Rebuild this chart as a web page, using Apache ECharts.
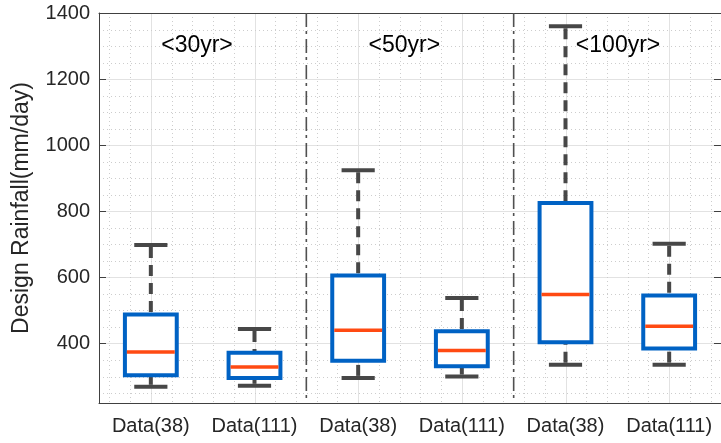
<!DOCTYPE html>
<html>
<head>
<meta charset="utf-8">
<script src="https://cdn.jsdelivr.net/npm/echarts@6/dist/echarts.min.js"></script>
<style>
  html, body { margin: 0; padding: 0; background: #fff; }
  #chart { width: 721px; height: 443px; }
</style>
</head>
<body>
<div id="chart"></div>
<script>
  // boxplot statistics
  var categories = ['Data(38)', 'Data(111)', 'Data(38)', 'Data(111)', 'Data(38)', 'Data(111)']
  var lowerWhisker = [269, 272, 296, 300, 336, 336]
  var q1 = [304, 296, 348, 331, 404, 385]
  var median = [374, 329, 440, 379, 548, 452]
  var q3 = [488, 372, 606, 437, 825, 545]
  var upperWhisker = [698, 444, 924, 538, 1360, 702]

  // period groups: label, first category index
  var groupLabels = ['<30yr>', '<50yr>', '<100yr>']
  var groupStart = [0, 2, 4]
  var groupLabelValue = [1300, 1300, 1300]
  // separators sit after these category indexes
  var groupEnds = [1, 3]

  var yMin = 220
  var yMax = 1400

  var boxData = categories.map(function (c, i) {
    return [i, lowerWhisker[i], q1[i], median[i], q3[i], upperWhisker[i]]
  })
  var labelData = groupLabels.map(function (t, i) {
    return [groupStart[i], groupLabelValue[i], t]
  })
  var sepData = groupEnds.map(function (i) { return [i, yMin] })

  var font = '"Liberation Sans", Arial, Helvetica, sans-serif'
  var axisColor = '#404040'

  function px (v) { return Math.round(v) + 0.5 }

  function renderGrid (params, api) {
    var cs = params.coordSys
    var band = api.size([1, 0])[0]
    var children = []
    var minor = { stroke: '#cdcdcd', lineWidth: 1, lineDash: [1, 3] }
    var major = { stroke: '#e2e2e2', lineWidth: 1 }
    for (var i = 0; i < categories.length; i++) {
      var cx = api.coord([i, 400])[0]
      for (var k = -2; k <= 2; k++) {
        var x = px(cx + k * band / 5)
        children.push({
          type: 'line',
          shape: { x1: x, y1: cs.y, x2: x, y2: cs.y + cs.height },
          style: k === 0 ? major : minor
        })
      }
    }
    for (var v = 250; v < yMax; v += 50) {
      if (v % 200 === 0) continue
      var y = px(api.coord([0, v])[1])
      children.push({
        type: 'line',
        shape: { x1: cs.x, y1: y, x2: cs.x + cs.width, y2: y },
        style: minor
      })
    }
    return { type: 'group', children: children }
  }

  function renderSep (params, api) {
    var cs = params.coordSys
    var band = api.size([1, 0])[0]
    var x = api.coord([api.value(0), yMin])[0] + band / 2
    return {
      type: 'line',
      shape: { x1: x, y1: cs.y, x2: x, y2: cs.y + cs.height },
      style: { stroke: '#505050', lineWidth: 1.6, lineDash: [14, 4, 3, 5] }
    }
  }

  function renderBox (params, api) {
    var i = api.value(0)
    var band = api.size([1, 0])[0]
    var cx = api.coord([i, yMin])[0]
    var yLow = api.coord([i, api.value(1)])[1]
    var yQ1 = api.coord([i, api.value(2)])[1]
    var yMed = api.coord([i, api.value(3)])[1]
    var yQ3 = api.coord([i, api.value(4)])[1]
    var yHigh = api.coord([i, api.value(5)])[1]
    var bw = band * 0.5
    var cw = band * 0.32
    var whisker = { stroke: '#474747', lineWidth: 4, lineDash: [11, 7] }
    var cap = { stroke: '#474747', lineWidth: 4 }
    return {
      type: 'group',
      children: [
        { type: 'line', shape: { x1: cx, y1: yHigh + 2, x2: cx, y2: yQ3 }, style: whisker },
        { type: 'line', shape: { x1: cx, y1: yLow - 2, x2: cx, y2: yQ1 }, style: whisker },
        { type: 'line', shape: { x1: cx - cw / 2, y1: yHigh, x2: cx + cw / 2, y2: yHigh }, style: cap },
        { type: 'line', shape: { x1: cx - cw / 2, y1: yLow, x2: cx + cw / 2, y2: yLow }, style: cap },
        {
          type: 'rect',
          shape: { x: cx - bw / 2, y: yQ3, width: bw, height: yQ1 - yQ3 },
          style: { fill: '#fff', stroke: '#0062c4', lineWidth: 4 }
        },
        {
          type: 'line',
          shape: { x1: cx - bw / 2 + 2, y1: yMed, x2: cx + bw / 2 - 2, y2: yMed },
          style: { stroke: '#ff4a12', lineWidth: 3.5 }
        }
      ]
    }
  }

  function renderLabel (params, api) {
    var band = api.size([1, 0])[0]
    var p = api.coord([api.value(0), api.value(1)])
    return {
      type: 'text',
      x: p[0] + band * 0.1,
      y: p[1],
      style: {
        text: labelData[params.dataIndex][2],
        fill: '#000',
        font: '23px ' + font,
        textAlign: 'left',
        textVerticalAlign: 'middle'
      }
    }
  }

  var chart = echarts.init(document.getElementById('chart'))
  var yLabelFmt = function (v) { return v % 200 === 0 ? String(v) : '' }
  var option = {
    animation: false,
    backgroundColor: '#fff',
    grid: { left: 99, top: 13, width: 623, height: 390 },
    xAxis: [{
      type: 'category',
      data: categories,
      position: 'bottom',
      axisLine: { lineStyle: { color: axisColor, width: 1 } },
      axisTick: { inside: true, alignWithLabel: true, length: 6, lineStyle: { color: axisColor } },
      axisLabel: { color: '#262626', fontSize: 20, fontFamily: font, margin: 13, interval: 0 },
      splitLine: { show: false }
    }, {
      type: 'category',
      data: categories,
      position: 'top',
      axisLine: { lineStyle: { color: axisColor, width: 1 } },
      axisTick: { inside: true, alignWithLabel: true, length: 6, lineStyle: { color: axisColor } },
      axisLabel: { show: false },
      splitLine: { show: false }
    }],
    yAxis: [{
      type: 'value',
      min: yMin,
      max: yMax,
      minInterval: 200,
      maxInterval: 200,
      name: 'Design Rainfall(mm/day)',
      nameLocation: 'middle',
      nameGap: 66,
      nameTextStyle: { color: '#262626', fontSize: 23, fontFamily: font },
      axisLine: { show: true, lineStyle: { color: axisColor, width: 1 } },
      axisTick: { show: true, inside: true, length: 7, lineStyle: { color: axisColor } },
      axisLabel: { color: '#262626', fontSize: 20, fontFamily: font, margin: 9, formatter: yLabelFmt, showMinLabel: false },
      splitLine: { show: true, lineStyle: { color: '#e2e2e2', width: 1 } }
    }, {
      type: 'value',
      min: yMin,
      max: yMax,
      minInterval: 200,
      maxInterval: 200,
      position: 'right',
      axisLine: { show: true, lineStyle: { color: axisColor, width: 1 } },
      axisTick: { show: true, inside: true, length: 7, lineStyle: { color: axisColor } },
      axisLabel: { show: false },
      splitLine: { show: false }
    }],
    series: [{
      type: 'custom',
      name: 'grid',
      data: [[0, yMin]],
      renderItem: renderGrid,
      silent: true,
      z: 0,
      clip: false
    }, {
      type: 'custom',
      name: 'separators',
      data: sepData,
      renderItem: renderSep,
      silent: true,
      z: 1
    }, {
      type: 'custom',
      name: 'boxes',
      data: boxData,
      encode: { x: 0, y: [1, 2, 3, 4, 5] },
      renderItem: renderBox,
      z: 3
    }, {
      type: 'custom',
      name: 'labels',
      data: labelData,
      encode: { x: 0, y: 1 },
      renderItem: renderLabel,
      z: 4
    }]
  }
  chart.setOption(option)
</script>
</body>
</html>
